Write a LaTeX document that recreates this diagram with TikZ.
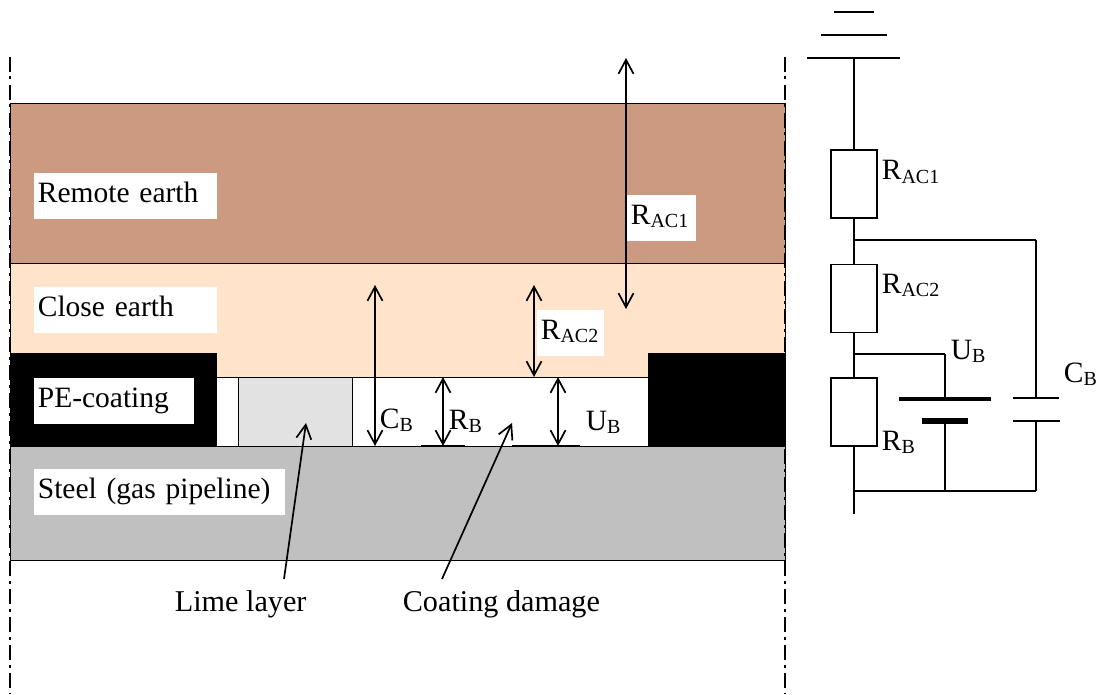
\documentclass[tikz,border=0pt]{standalone}
\usepackage{fontspec}
\setmainfont{Liberation Serif}
\usetikzlibrary{arrows.meta}
\definecolor{remotecol}{HTML}{CC9A80}
\definecolor{closecol}{HTML}{FFE3CA}
\definecolor{steelcol}{HTML}{C0C0C0}
\definecolor{limecol}{HTML}{E2E2E2}
\newcommand{\lbl}[2]{#1\raisebox{-3pt}{\fontsize{20}{20}\selectfont #2}}
\tikzset{
  layer/.style={draw, line width=1.2pt, anchor=north west, inner sep=0pt},
  res/.style={draw, line width=1.7pt, fill=white, minimum width=46pt, minimum height=68pt, inner sep=0pt, anchor=north},
  tag/.style={fill=white, anchor=north west, inner xsep=4pt, inner ysep=0pt, text height=29.5pt, text depth=17pt, align=left},
  txt/.style={anchor=base west, inner sep=0pt},
  callout/.style={txt, font=\fontsize{30.2}{36}\selectfont}
}
\begin{document}
\begin{tikzpicture}[x=1pt,y=-1pt,line width=1.7pt,>={Straight Barb[length=14pt,width=15pt,line width=1.7pt]},
    every node/.append style={font=\fontsize{29.5}{36}\selectfont}]
  \useasboundingbox (0,0) rectangle (1102,695);

  \node[layer, fill=remotecol, minimum width=775pt, minimum height=160pt] (remote) at (10,103) {};
  \node[layer, fill=closecol, minimum width=775pt, minimum height=114pt] (close) at (10,263) {};
  \node[layer, fill=white, minimum width=432pt, minimum height=69pt] (gap) at (216,377) {};
  \node[layer, fill=black, minimum width=206pt, minimum height=93pt] (blockL) at (10,353) {};
  \node[layer, fill=black, minimum width=137pt, minimum height=93pt] (blockR) at (648,353) {};
  \node[layer, fill=limecol, minimum width=114pt, minimum height=69pt] (lime) at (238,377) {};
  \node[layer, fill=steelcol, minimum width=775pt, minimum height=114pt] (steel) at (10,446) {};

  \coordinate (edgeLtop) at (10,57);
  \coordinate (edgeLbot) at (10,693);
  \coordinate (edgeRtop) at (785,57);
  \coordinate (edgeRbot) at (785,693);
  \draw[dash pattern=on 15pt off 4.5pt on 3pt off 5.5pt] (edgeLtop) to (edgeLbot);
  \draw[dash pattern=on 15pt off 4.5pt on 3pt off 5.5pt] (edgeRtop) to (edgeRbot);

  \node[tag, text width=175pt] (remotetag) at (33,172) {Remote earth};
  \node[tag, text width=175pt] (closetag) at (33,286) {Close earth};
  \node[tag, text width=152pt] (petag) at (33,377) {PE-coating};
  \node[tag, text width=243pt] (steeltag) at (33,468) {Steel (gas pipeline)};
  \node[tag, text width=61pt] (rac1tag) at (626,194) {\lbl{R}{AC1}};
  \node[tag, text width=59pt] (rac2tag) at (536,309) {\lbl{R}{AC2}};
  \node[txt] (cbtag) at (379,428) {\lbl{C}{B}};
  \node[txt] (rbtag) at (448,429) {\lbl{R}{B}};
  \node[txt] (ubtag) at (585,430) {\lbl{U}{B}};
  \node[callout] (limetag) at (174,611) {Lime layer};
  \node[callout] (damagetag) at (402,611) {Coating damage};

  \coordinate (rac1a) at (626,58);
  \coordinate (rac1b) at (626,309);
  \coordinate (rac2a) at (534,285);
  \coordinate (rac2b) at (534,377);
  \coordinate (cba) at (375,285);
  \coordinate (cbb) at (375,446);
  \coordinate (rba) at (443,377);
  \coordinate (rbb) at (443,446);
  \coordinate (uba) at (558,377);
  \coordinate (ubb) at (558,446);
  \coordinate (rbfootL) at (421,446);
  \coordinate (rbfootR) at (465,446);
  \coordinate (ubfootL) at (512,446);
  \coordinate (ubfootR) at (580,446);
  \coordinate (limefoot) at (284,579);
  \coordinate (limetip) at (306,423);
  \coordinate (damagefoot) at (442,579);
  \coordinate (damagetip) at (512,423);
  \begin{scope}[<->]
    \draw (rac1a) to (rac1b);
    \draw (rac2a) to (rac2b);
    \draw (cba) to (cbb);
    \draw (rba) to (rbb);
    \draw (uba) to (ubb);
  \end{scope}
  \draw[->] (limefoot) to (limetip);
  \draw[->] (damagefoot) to (damagetip);
  \draw (rbfootL) to (rbfootR);
  \draw (ubfootL) to (ubfootR);

  \node[res] (r1) at (854,149) {};
  \node[res] (r2) at (854,263.5) {};
  \node[res] (r3) at (854,377) {};
  \node[txt] (r1tag) at (881,180) {\lbl{R}{AC1}};
  \node[txt] (r2tag) at (881,293) {\lbl{R}{AC2}};
  \node[txt] (r3tag) at (881,450) {\lbl{R}{B}};
  \node[txt] (ub2tag) at (950,359) {\lbl{U}{B}};
  \node[txt] (cb2tag) at (1063,382) {\lbl{C}{B}};

  \coordinate (gnd1L) at (807,58);
  \coordinate (gnd1) at (854,58);
  \coordinate (gnd1R) at (900,58);
  \coordinate (gnd2L) at (821,35);
  \coordinate (gnd2R) at (887,35);
  \coordinate (gnd3L) at (834,12);
  \coordinate (gnd3R) at (874,12);
  \coordinate (topnode) at (854,240);
  \coordinate (topright) at (1036,240);
  \coordinate (midnode) at (854,354);
  \coordinate (midright) at (945,354);
  \coordinate (batttop) at (945,399);
  \coordinate (battbot) at (945,421);
  \coordinate (plate1L) at (899,399);
  \coordinate (plate1R) at (991,399);
  \coordinate (plate2L) at (922,421);
  \coordinate (plate2R) at (968,421);
  \coordinate (captop) at (1036,398);
  \coordinate (capbot) at (1036,421);
  \coordinate (cap1L) at (1013,398);
  \coordinate (cap1R) at (1059,398);
  \coordinate (cap2L) at (1013,421);
  \coordinate (cap2R) at (1060,421);
  \coordinate (botnode) at (854,491);
  \coordinate (botmid) at (945,491);
  \coordinate (botright) at (1036,491);
  \coordinate (tail) at (854,514);

  \draw (gnd1L) to (gnd1R);
  \draw (gnd2L) to (gnd2R);
  \draw (gnd3L) to (gnd3R);
  \draw (gnd1) to (r1.north);
  \draw (r1.south) to (r2.north);
  \draw (r2.south) to (r3.north);
  \draw (r3.south) to (tail);
  \draw (topnode) to (topright);
  \draw (topright) to (captop);
  \draw (capbot) to (botright);
  \draw (midnode) to (midright);
  \draw (midright) to (batttop);
  \draw (battbot) to (botmid);
  \draw (botnode) to (botright);
  \draw (cap1L) to (cap1R);
  \draw (cap2L) to (cap2R);
  \draw[line width=4pt] (plate1L) to (plate1R);
  \draw[line width=6pt] (plate2L) to (plate2R);
\end{tikzpicture}
\end{document}
